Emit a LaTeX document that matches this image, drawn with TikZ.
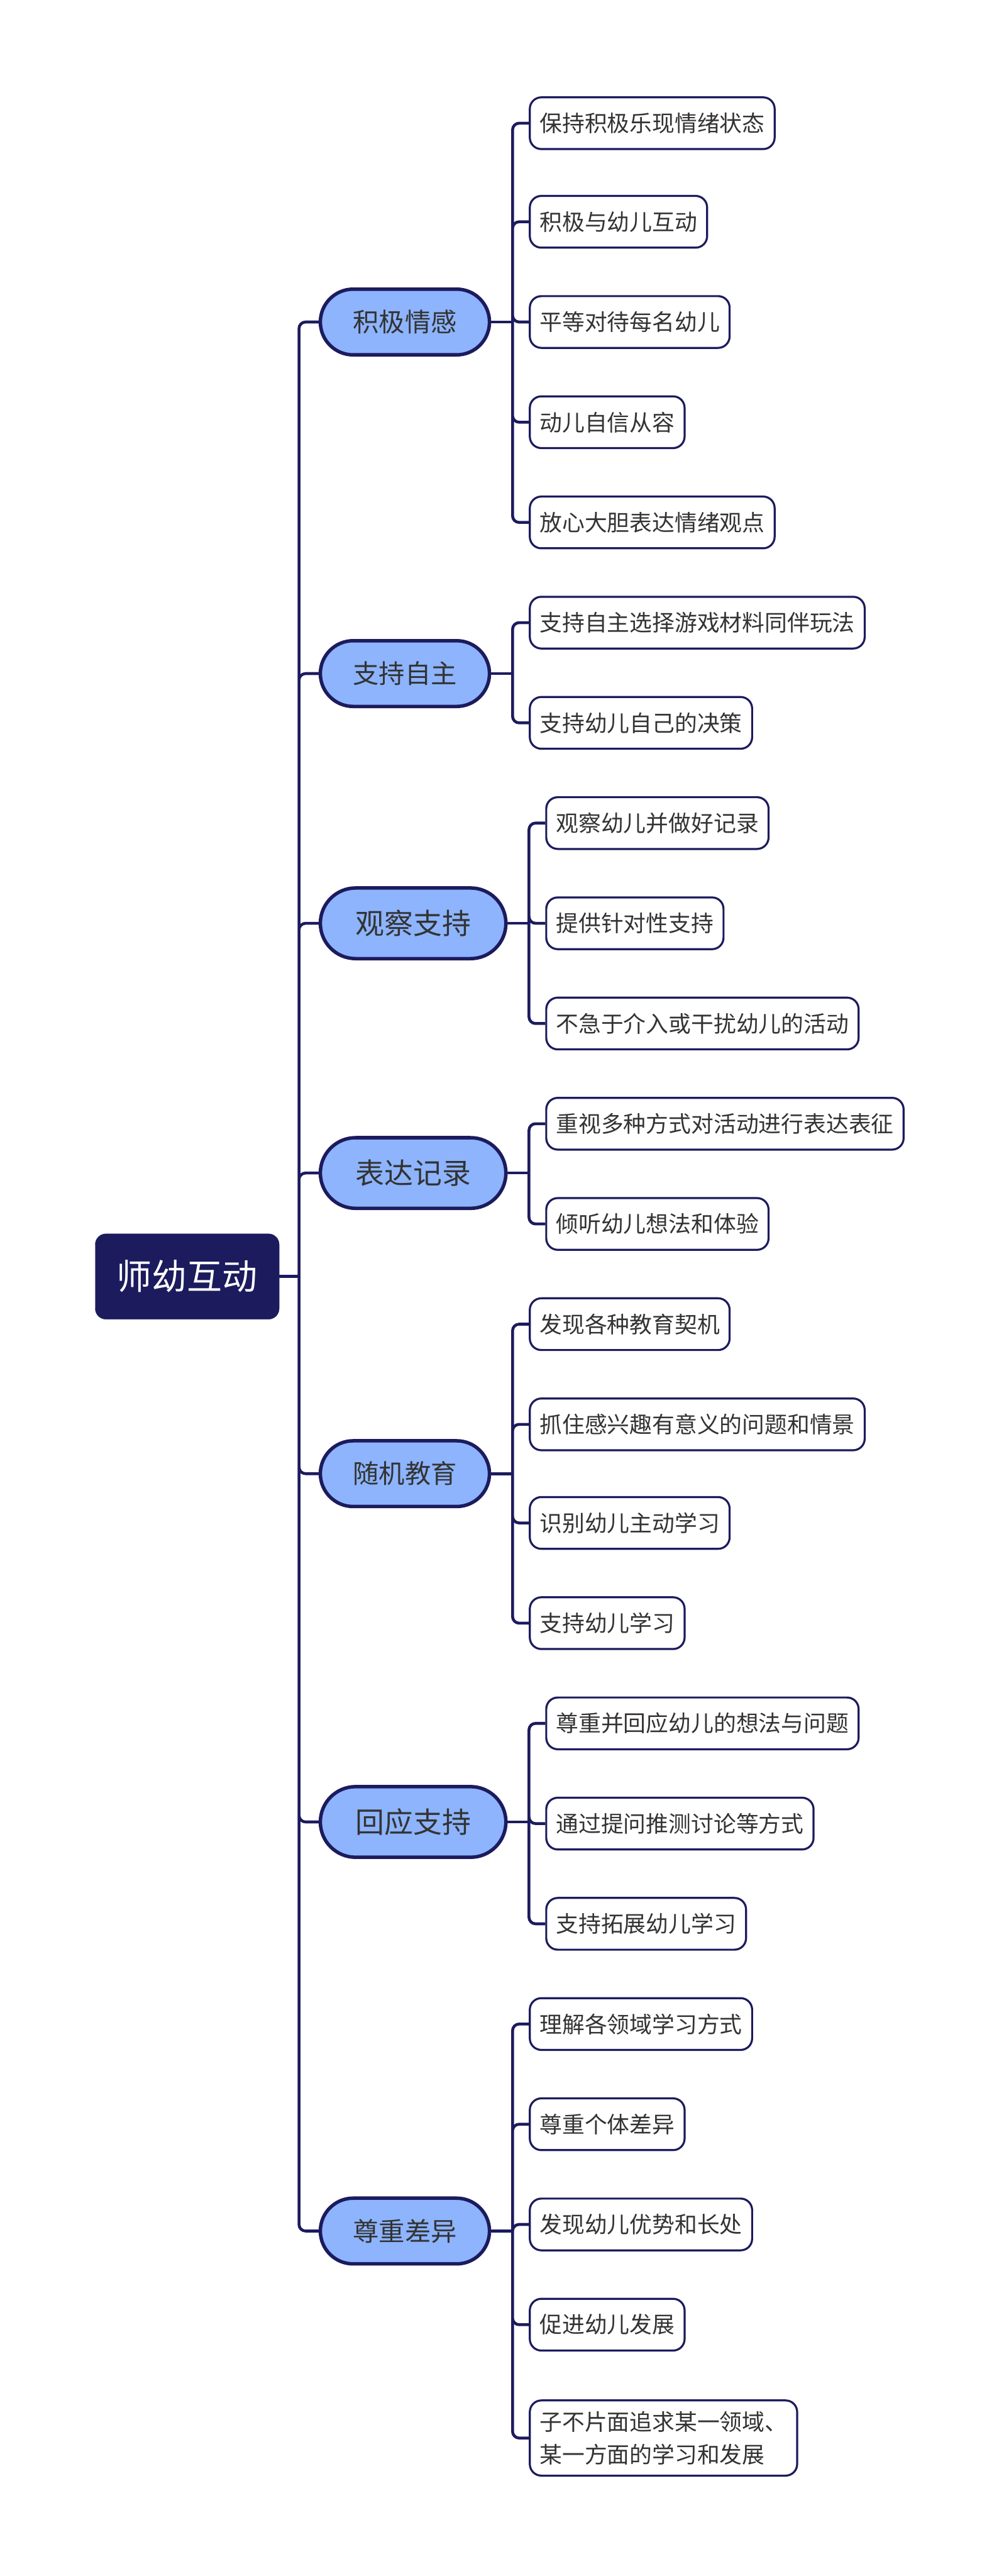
\documentclass[tikz,border=0pt]{standalone}
\usepackage{fontspec}
\setmainfont{Noto Sans CJK SC}
\definecolor{LineClr}{RGB}{28,27,94}
\definecolor{RootClr}{RGB}{28,27,94}
\definecolor{TopicClr}{RGB}{141,180,252}
\definecolor{TextClr}{RGB}{51,51,51}

\begin{document}
\begin{tikzpicture}[x=1mm,y=-1mm,
  root/.style={fill=RootClr,draw=RootClr,text=white,rounded corners=6.5mm,minimum width=112mm,minimum height=52mm,font=\fontsize{61}{70}\selectfont},
  topic/.style={fill=TopicClr,draw=LineClr,line width=6pt,text=TextClr,rounded corners=20mm,minimum width=103mm,minimum height=40mm,anchor=west,font=\fontsize{45}{54}\selectfont},
  bigtopic/.style={topic,rounded corners=21.5mm,minimum width=113mm,minimum height=43mm,font=\fontsize{50}{60}\selectfont},
  leaf/.style={fill=white,draw=LineClr,line width=3.5pt,text=TextClr,rounded corners=7mm,inner xsep=6mm,inner ysep=6.5mm,minimum height=31.5mm,anchor=west,align=left,font=\fontsize{39}{57}\selectfont},
  link/.style={draw=LineClr,line width=5pt,rounded corners=4mm}]
\useasboundingbox (0,0) rectangle (611,1568);

\node[root] (root) at (114,777) {师幼互动};

\node[topic] (t1) at (194,196) {积极情感};
\node[topic] (t2) at (194,410) {支持自主};
\node[bigtopic] (t3) at (194,562) {观察支持};
\node[bigtopic] (t4) at (194,714) {表达记录};
\node[topic] (t5) at (194,897) {随机教育};
\node[bigtopic] (t6) at (194,1109) {回应支持};
\node[topic] (t7) at (194,1358) {尊重差异};

\node[leaf] (l11) at (322,75) {保持积极乐现情绪状态};
\node[leaf] (l12) at (322,135) {积极与幼儿互动};
\node[leaf] (l13) at (322,196) {平等对待每名幼儿};
\node[leaf] (l14) at (322,257) {动儿自信从容};
\node[leaf] (l15) at (322,318) {放心大胆表达情绪观点};

\node[leaf] (l21) at (322,379) {支持自主选择游戏材料同伴玩法};
\node[leaf] (l22) at (322,440) {支持幼儿自己的决策};

\node[leaf] (l31) at (332,501) {观察幼儿并做好记录};
\node[leaf] (l32) at (332,562) {提供针对性支持};
\node[leaf] (l33) at (332,623) {不急于介入或干扰幼儿的活动};

\node[leaf] (l41) at (332,684) {重视多种方式对活动进行表达表征};
\node[leaf] (l42) at (332,745) {倾听幼儿想法和体验};

\node[leaf] (l51) at (322,806) {发现各种教育契机};
\node[leaf] (l52) at (322,867) {抓住感兴趣有意义的问题和情景};
\node[leaf] (l53) at (322,927) {识别幼儿主动学习};
\node[leaf] (l54) at (322,988) {支持幼儿学习};

\node[leaf] (l61) at (332,1049) {尊重并回应幼儿的想法与问题};
\node[leaf] (l62) at (332,1110) {通过提问推测讨论等方式};
\node[leaf] (l63) at (332,1171) {支持拓展幼儿学习};

\node[leaf] (l71) at (322,1232) {理解各领域学习方式};
\node[leaf] (l72) at (322,1293) {尊重个体差异};
\node[leaf] (l73) at (322,1354) {发现幼儿优势和长处};
\node[leaf] (l74) at (322,1415) {促进幼儿发展};
\node[leaf] (l75) at (322,1484) {子不片面追求某一领域、\\某一方面的学习和发展};

\coordinate (hub) at ([xshift=12mm]root.east);
\coordinate (s1) at ([xshift=13mm]t1.east);
\coordinate (s2) at ([xshift=13mm]t2.east);
\coordinate (s3) at ([xshift=13mm]t3.east);
\coordinate (s4) at ([xshift=13mm]t4.east);
\coordinate (s5) at ([xshift=13mm]t5.east);
\coordinate (s6) at ([xshift=13mm]t6.east);
\coordinate (s7) at ([xshift=13mm]t7.east);

\draw[link] (root.east) -- (hub);
\draw[link] (hub) |- (t1.west) (hub) |- (t2.west) (hub) |- (t3.west) (hub) |- (t4.west)
  (hub) |- (t5.west) (hub) |- (t6.west) (hub) |- (t7.west);

\draw[link] (t1.east) -- (s1) (t2.east) -- (s2) (t3.east) -- (s3) (t4.east) -- (s4)
  (t5.east) -- (s5) (t6.east) -- (s6) (t7.east) -- (s7);

\draw[link] (s1) |- (l11.west) (s1) |- (l12.west) (s1) |- (l13.west) (s1) |- (l14.west) (s1) |- (l15.west);
\draw[link] (s2) |- (l21.west) (s2) |- (l22.west);
\draw[link] (s3) |- (l31.west) (s3) |- (l32.west) (s3) |- (l33.west);
\draw[link] (s4) |- (l41.west) (s4) |- (l42.west);
\draw[link] (s5) |- (l51.west) (s5) |- (l52.west) (s5) |- (l53.west) (s5) |- (l54.west);
\draw[link] (s6) |- (l61.west) (s6) |- (l62.west) (s6) |- (l63.west);
\draw[link] (s7) |- (l71.west) (s7) |- (l72.west) (s7) |- (l73.west) (s7) |- (l74.west) (s7) |- (l75.west);

\end{tikzpicture}
\end{document}
